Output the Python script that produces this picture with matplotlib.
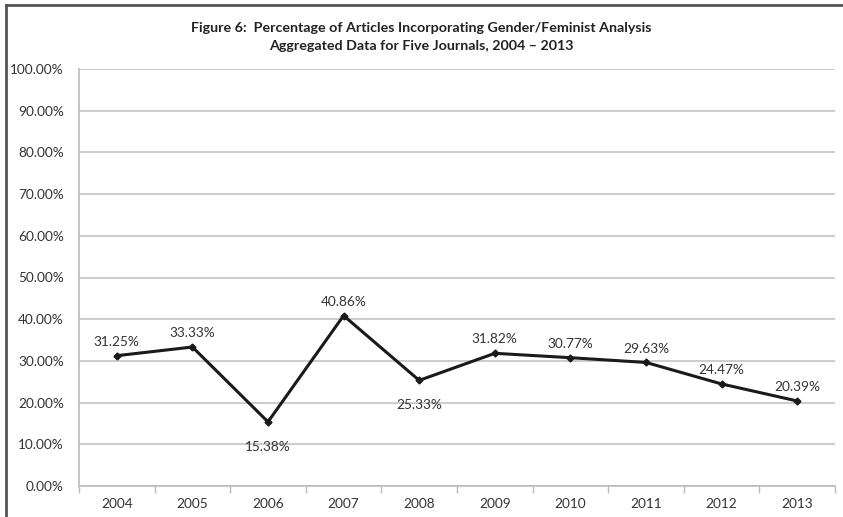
import matplotlib.pyplot as plt
import numpy as np
from matplotlib.lines import Line2D
from matplotlib.ticker import FuncFormatter

plt.rcParams['font.family'] = ['Lato', 'DejaVu Sans']

years = ['2004', '2005', '2006', '2007', '2008', '2009', '2010', '2011', '2012', '2013']
pct = [31.25, 33.33, 15.38, 40.86, 25.33, 31.82, 30.77, 29.63, 24.47, 20.39]
label_below = ['2006', '2008']

fig = plt.figure(figsize=(8.43, 5.17), dpi=100)
ax = fig.add_axes([79 / 843, 31 / 517, 756 / 843, 417 / 517])

x = np.arange(len(years))
ax.plot(x, pct, color='#1a1a1a', lw=2.2, marker='D', ms=3.5, zorder=3)

for xi, yr, v in zip(x, years, pct):
    off = -18 if yr in label_below else 10
    ax.annotate('%.2f%%' % v, (xi, v), xytext=(0, off), textcoords='offset points',
                ha='center', va='center', fontsize=9.8, color='#333333')

ax.set_xlim(-0.5, len(years) - 0.5)
ax.set_ylim(0, 100)
ax.set_yticks(np.arange(0, 101, 10))
ax.yaxis.set_major_formatter(FuncFormatter(lambda v, p: '%.2f%%' % v))
ax.set_xticks(x)
ax.set_xticklabels(years)
ax.set_xticks(np.arange(-0.5, len(years), 1), minor=True)
ax.tick_params(axis='x', which='major', length=0, pad=9, labelsize=9.8, labelcolor='#333333')
ax.tick_params(axis='x', which='minor', length=5, color='#bbbbbb', width=1)
ax.tick_params(axis='y', length=0, pad=11, labelsize=9.8, labelcolor='#333333')

ax.grid(axis='y', color='#c8c8c8', lw=1.3)
ax.set_axisbelow(True)
for s in ['top', 'right']:
    ax.spines[s].set_visible(False)
for s in ['left', 'bottom']:
    ax.spines[s].set_color('#bbbbbb')
    ax.spines[s].set_linewidth(1.2)

fig.text(0.5, 1 - 28 / 517, 'Figure 6:  Percentage of Articles Incorporating Gender/Feminist Analysis',
         ha='center', va='center', fontsize=10.3, fontweight='bold', color='#222222')
fig.text(0.5, 1 - 46 / 517, 'Aggregated Data for Five Journals, 2004 \u2013 2013',
         ha='center', va='center', fontsize=10.3, fontweight='bold', color='#222222')

# frame of the chart area (only top and left edges show)
fig.add_artist(Line2D([6 / 843, 6 / 843], [0, 1 - 5 / 517], transform=fig.transFigure,
                      color='#555555', lw=2))
fig.add_artist(Line2D([6 / 843, 1], [1 - 5 / 517, 1 - 5 / 517], transform=fig.transFigure,
                      color='#555555', lw=2))

fig.savefig('out.png', dpi=100)
